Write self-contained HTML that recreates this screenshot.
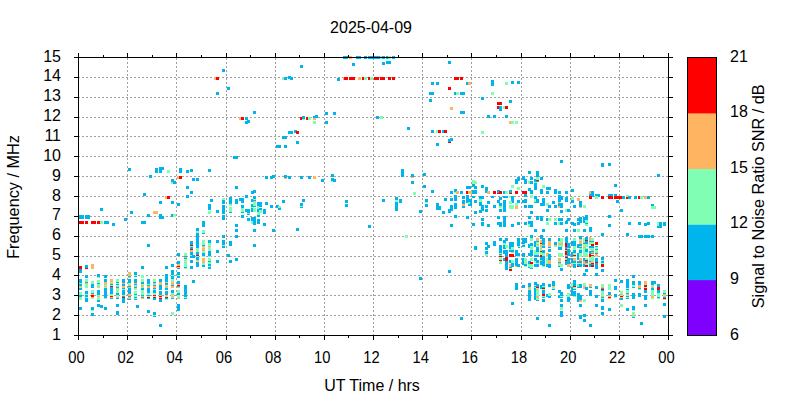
<!DOCTYPE html><html><head><meta charset="utf-8"><style>html,body{margin:0;padding:0;background:#fff;width:800px;height:400px;overflow:hidden}svg{display:block}text{font-family:"Liberation Sans",sans-serif;fill:#000}</style></head><body><svg width="800" height="400" viewBox="0 0 800 400"><rect width="800" height="400" fill="#fff"/><path d="M78 315.5H668M78 295.5H668M78 275.5H668M78 256.5H668M78 236.5H668M78 216.5H668M78 196.5H668M78 176.5H668M78 156.5H668M78 136.5H668M78 117.5H668M78 97.5H668M78 77.5H668M127.5 58V336M176.5 58V336M226.5 58V336M275.5 58V336M324.5 58V336M373.5 58V336M422.5 58V336M471.5 58V336M521.5 58V336M570.5 58V336M619.5 58V336" stroke="#a0a0a0" stroke-width="1" stroke-dasharray="2 2" fill="none"/><path fill="#00b4ec" d="M222 69h3v3h-3z"/><path fill="#ffb462" d="M214 77h2v3h-2z"/><path fill="#ff0000" d="M216 77h3v3h-3z"/><path fill="#00b4ec" d="M227 87h3v3h-3zM216 92h3v3h-3zM300 65h3v3h-3z"/><path fill="#80ffb4" d="M282 77h3v3h-3z"/><path fill="#00b4ec" d="M284 77h3v3h-3zM288 76h3v3h-3zM290 77h3v3h-3zM343 56h5v3h-5z"/><path fill="#ffb462" d="M349 56h3v3h-3z"/><path fill="#00b4ec" d="M356 56h5v3h-5zM364 56h3v3h-3zM368 56h10v3h-10zM352 63h3v3h-3zM337 78h3v3h-3z"/><path fill="#ffb462" d="M343 77h1v3h-1z"/><path fill="#ff0000" d="M344 77h4v3h-4zM349 77h6v3h-6z"/><path fill="#ffb462" d="M358 77h3v3h-3z"/><path fill="#ff0000" d="M362 77h2v3h-2z"/><path fill="#80ffb4" d="M364 77h3v3h-3z"/><path fill="#ff0000" d="M368 77h2v3h-2z"/><path fill="#80ffb4" d="M370 77h3v3h-3z"/><path fill="#ff0000" d="M374 77h4v3h-4z"/><path fill="#00b4ec" d="M378 56h3v3h-3z"/><path fill="#80ffb4" d="M380 56h2v3h-2z"/><path fill="#00b4ec" d="M382 56h3v3h-3zM386 56h3v3h-3z"/><path fill="#80ffb4" d="M388 56h3v3h-3z"/><path fill="#00b4ec" d="M392 56h3v3h-3zM382 62h3v3h-3zM386 61h5v3h-5zM448 61h3v3h-3z"/><path fill="#ff0000" d="M378 77h1v3h-1zM380 77h5v3h-5zM388 77h3v3h-3zM392 77h3v3h-3zM454 77h5v3h-5zM460 77h3v3h-3z"/><path fill="#00b4ec" d="M431 82h3v3h-3zM436 82h3v3h-3zM466 82h2v3h-2z"/><path fill="#ffb462" d="M468 82h3v3h-3z"/><path fill="#ff0000" d="M448 87h3v3h-3z"/><path fill="#00b4ec" d="M429 92h5v3h-5zM454 92h2v3h-2z"/><path fill="#80ffb4" d="M456 92h3v3h-3z"/><path fill="#00b4ec" d="M460 92h5v3h-5zM429 99h3v3h-3zM491 80h3v6h-3z"/><path fill="#80ffb4" d="M505 82h3v3h-3z"/><path fill="#00b4ec" d="M511 81h3v3h-3zM517 81h3v3h-3z"/><path fill="#80ffb4" d="M491 92h3v3h-3z"/><path fill="#00b4ec" d="M481 97h3v3h-3z"/><path fill="#ff0000" d="M497 102h5v3h-5z"/><path fill="#00b4ec" d="M509 100h3v3h-3zM253 111h3v3h-3z"/><path fill="#ffb462" d="M239 117h2v3h-2z"/><path fill="#ff0000" d="M241 117h3v3h-3z"/><path fill="#00b4ec" d="M245 117h3v3h-3zM245 121h3v3h-3zM247 120h3v3h-3zM325 112h3v3h-3zM333 112h3v3h-3z"/><path fill="#ff0000" d="M300 117h2v3h-2z"/><path fill="#80ffb4" d="M302 118h3v2h-3z"/><path fill="#00b4ec" d="M302 116h3v3h-3z"/><path fill="#ff0000" d="M306 117h2v3h-2z"/><path fill="#80ffb4" d="M308 117h3v3h-3z"/><path fill="#ffb462" d="M313 118h3v2h-3z"/><path fill="#00b4ec" d="M313 116h3v2h-3zM315 115h3v3h-3z"/><path fill="#80ffb4" d="M313 121h3v3h-3z"/><path fill="#00b4ec" d="M325 121h3v3h-3zM288 131h5v3h-5zM294 130h3v3h-3z"/><path fill="#ff0000" d="M296 131h3v3h-3z"/><path fill="#00b4ec" d="M282 136h5v3h-5zM296 141h3v3h-3zM276 145h5v3h-5zM284 145h3v3h-3z"/><path fill="#ffb462" d="M450 107h3v3h-3z"/><path fill="#00b4ec" d="M460 111h5v3h-5zM376 116h3v3h-3z"/><path fill="#80ffb4" d="M380 116h3v3h-3z"/><path fill="#00b4ec" d="M407 127h3v3h-3zM431 130h3v3h-3z"/><path fill="#80ffb4" d="M436 130h2v3h-2z"/><path fill="#ff0000" d="M438 130h3v3h-3z"/><path fill="#00b4ec" d="M442 130h2v3h-2z"/><path fill="#ff0000" d="M444 130h3v3h-3zM448 141h3v2h-3z"/><path fill="#00b4ec" d="M448 139h3v3h-3zM450 138h3v3h-3zM436 143h3v3h-3z"/><path fill="#ff0000" d="M497 106h2v3h-2z"/><path fill="#00b4ec" d="M499 106h3v5h-3z"/><path fill="#80ffb4" d="M503 106h2v3h-2z"/><path fill="#ff0000" d="M505 106h3v3h-3z"/><path fill="#00b4ec" d="M487 115h3v3h-3zM493 115h3v3h-3zM505 115h3v3h-3z"/><path fill="#ffb462" d="M509 121h2v3h-2z"/><path fill="#80ffb4" d="M511 121h3v3h-3zM515 121h3v3h-3zM481 131h3v3h-3z"/><path fill="#00b4ec" d="M128 168h3v3h-3zM155 168h3v5h-3zM159 167h3v6h-3zM161 167h3v3h-3z"/><path fill="#80ffb4" d="M167 170h3v3h-3z"/><path fill="#00b4ec" d="M149 175h3v3h-3z"/><path fill="#80ffb4" d="M171 182h4v2h-4z"/><path fill="#00b4ec" d="M171 179h3v3h-3zM173 181h3v3h-3zM143 193h3v3h-3z"/><path fill="#ffb462" d="M165 196h2v3h-2z"/><path fill="#ff0000" d="M167 196h3v3h-3z"/><path fill="#00b4ec" d="M159 201h3v3h-3zM171 201h3v3h-3zM233 156h5v3h-5zM179 168h3v5h-3zM186 170h3v3h-3zM190 169h3v3h-3zM208 169h3v3h-3z"/><path fill="#ffb462" d="M177 176h2v3h-2z"/><path fill="#ff0000" d="M179 176h3v3h-3z"/><path fill="#00b4ec" d="M192 178h3v3h-3zM196 178h3v3h-3zM265 176h3v3h-3zM270 176h3v3h-3zM272 175h3v3h-3zM186 186h3v3h-3zM235 186h3v3h-3zM190 191h3v3h-3zM251 191h3v3h-3zM253 190h3v3h-3zM186 195h3v3h-3zM245 195h3v3h-3zM210 199h3v3h-3z"/><path fill="#ffb462" d="M284 177h3v2h-3z"/><path fill="#00b4ec" d="M284 175h3v3h-3zM288 176h3v3h-3zM300 176h3v3h-3zM308 176h3v3h-3z"/><path fill="#ffb462" d="M313 176h3v3h-3z"/><path fill="#00b4ec" d="M321 179h3v3h-3zM331 174h3v3h-3z"/><path fill="#80ffb4" d="M331 180h3v2h-3z"/><path fill="#00b4ec" d="M331 178h3v3h-3zM333 179h3v3h-3zM401 169h3v8h-3z"/><path fill="#ffb462" d="M411 176h3v2h-3z"/><path fill="#00b4ec" d="M411 174h3v3h-3zM423 173h3v3h-3zM411 181h3v3h-3zM423 185h3v3h-3z"/><path fill="#80ffb4" d="M413 192h3v3h-3z"/><path fill="#00b4ec" d="M431 190h3v3h-3zM450 191h3v3h-3z"/><path fill="#80ffb4" d="M454 191h3v2h-3z"/><path fill="#00b4ec" d="M454 189h3v3h-3z"/><path fill="#ffb462" d="M456 191h3v3h-3z"/><path fill="#00b4ec" d="M460 191h3v3h-3zM466 186h5v3h-5z"/><path fill="#ff0000" d="M466 191h2v3h-2z"/><path fill="#ffb462" d="M468 191h3v3h-3z"/><path fill="#80ffb4" d="M472 180h3v4h-3zM474 181h3v3h-3z"/><path fill="#00b4ec" d="M472 184h3v3h-3zM474 186h3v3h-3zM470 186h1v3h-1zM481 185h3v3h-3z"/><path fill="#80ffb4" d="M485 192h3v1h-3z"/><path fill="#00b4ec" d="M485 187h3v6h-3z"/><path fill="#ffb462" d="M487 191h3v3h-3z"/><path fill="#00b4ec" d="M472 190h5v4h-5z"/><path fill="#ffb462" d="M470 191h2v3h-2z"/><path fill="#ff0000" d="M493 191h3v3h-3z"/><path fill="#00b4ec" d="M497 190h3v3h-3z"/><path fill="#ff0000" d="M499 191h3v3h-3zM497 193h2v1h-2z"/><path fill="#00b4ec" d="M503 191h2v3h-2z"/><path fill="#80ffb4" d="M505 191h3v3h-3z"/><path fill="#ff0000" d="M509 193h3v1h-3z"/><path fill="#00b4ec" d="M509 190h3v3h-3z"/><path fill="#ff0000" d="M515 191h3v3h-3z"/><path fill="#80ffb4" d="M511 185h3v3h-3z"/><path fill="#00b4ec" d="M515 179h3v5h-3zM517 177h3v4h-3z"/><path fill="#80ffb4" d="M517 187h3v3h-3z"/><path fill="#00b4ec" d="M560 160h3v3h-3zM528 171h3v3h-3zM536 171h3v6h-3z"/><path fill="#80ffb4" d="M536 177h3v3h-3z"/><path fill="#00b4ec" d="M530 177h3v3h-3zM540 177h3v3h-3zM522 176h3v4h-3zM524 179h3v5h-3zM534 179h2v3h-2zM536 180h3v2h-3z"/><path fill="#ff0000" d="M536 180h3v1h-3z"/><path fill="#80ffb4" d="M528 181h2v3h-2z"/><path fill="#00b4ec" d="M530 181h3v3h-3z"/><path fill="#80ffb4" d="M534 182h3v1h-3z"/><path fill="#00b4ec" d="M534 183h3v7h-3z"/><path fill="#80ffb4" d="M542 185h3v3h-3z"/><path fill="#00b4ec" d="M546 187h5v3h-5zM528 188h3v3h-3zM530 190h3v4h-3z"/><path fill="#ff0000" d="M522 191h5v3h-5z"/><path fill="#00b4ec" d="M524 194h3v3h-3zM540 189h3v5h-3zM546 191h3v3h-3zM554 189h3v5h-3zM558 191h3v3h-3zM565 191h3v3h-3z"/><path fill="#80ffb4" d="M530 195h3v3h-3z"/><path fill="#00b4ec" d="M534 196h3v3h-3zM558 195h3v3h-3zM560 196h3v4h-3zM565 197h3v3h-3zM601 163h3v4h-3zM608 163h3v3h-3zM657 174h3v3h-3zM614 184h3v3h-3zM571 189h3v3h-3z"/><path fill="#ffb462" d="M589 191h2v3h-2z"/><path fill="#00b4ec" d="M591 191h3v4h-3zM589 194h5v3h-5zM595 194h5v3h-5zM608 194h5v3h-5zM614 194h3v3h-3z"/><path fill="#ff0000" d="M589 196h3v3h-3z"/><path fill="#80ffb4" d="M595 196h3v3h-3z"/><path fill="#ff0000" d="M601 196h3v3h-3zM608 196h5v3h-5zM614 196h8v3h-8z"/><path fill="#00b4ec" d="M622 196h3v3h-3z"/><path fill="#ff0000" d="M626 196h2v3h-2z"/><path fill="#80ffb4" d="M626 195h3v2h-3z"/><path fill="#00b4ec" d="M628 196h3v3h-3zM634 196h3v3h-3z"/><path fill="#ff0000" d="M638 196h2v3h-2z"/><path fill="#80ffb4" d="M640 196h3v3h-3z"/><path fill="#ffb462" d="M644 196h3v3h-3z"/><path fill="#00b4ec" d="M647 196h3v3h-3z"/><path fill="#80ffb4" d="M571 197h3v3h-3z"/><path fill="#ffb462" d="M577 198h3v3h-3z"/><path fill="#00b4ec" d="M571 200h3v3h-3zM616 200h3v3h-3zM177 203h1v3h-1zM100 208h3v3h-3zM130 211h3v3h-3z"/><path fill="#ffb462" d="M153 211h5v3h-5z"/><path fill="#00b4ec" d="M79 215h5v4h-5zM85 215h5v4h-5zM147 214h3v3h-3zM159 214h3v3h-3zM159 216h5v3h-5zM171 214h2v3h-2z"/><path fill="#80ffb4" d="M173 214h3v3h-3z"/><path fill="#00b4ec" d="M124 218h3v3h-3z"/><path fill="#ff0000" d="M79 221h5v3h-5zM85 221h3v3h-3zM91 221h5v3h-5zM97 221h3v3h-3z"/><path fill="#80ffb4" d="M100 221h3v3h-3z"/><path fill="#00b4ec" d="M104 221h5v3h-5zM141 221h5v3h-5zM112 223h3v3h-3zM147 244h3v3h-3zM177 203h3v3h-3zM208 204h3v6h-3z"/><path fill="#80ffb4" d="M208 211h3v3h-3z"/><path fill="#00b4ec" d="M216 210h3v3h-3z"/><path fill="#80ffb4" d="M222 198h3v2h-3z"/><path fill="#00b4ec" d="M222 200h3v4h-3zM222 205h3v9h-3zM222 215h3v5h-3zM229 197h3v7h-3z"/><path fill="#80ffb4" d="M229 204h3v2h-3zM229 207h3v5h-3z"/><path fill="#00b4ec" d="M229 212h3v1h-3zM235 199h3v5h-3zM239 198h5v3h-5zM241 200h3v3h-3zM241 205h3v3h-3z"/><path fill="#80ffb4" d="M241 208h3v4h-3z"/><path fill="#00b4ec" d="M241 212h3v1h-3zM241 215h3v3h-3zM245 196h3v2h-3zM245 209h5v3h-5zM247 211h3v2h-3z"/><path fill="#80ffb4" d="M247 213h3v1h-3z"/><path fill="#00b4ec" d="M247 214h3v1h-3zM251 199h3v3h-3zM251 204h3v3h-3z"/><path fill="#80ffb4" d="M251 207h3v1h-3z"/><path fill="#00b4ec" d="M251 208h3v4h-3zM253 196h3v3h-3z"/><path fill="#80ffb4" d="M253 199h3v1h-3z"/><path fill="#00b4ec" d="M253 200h3v1h-3z"/><path fill="#ffb462" d="M253 201h3v1h-3z"/><path fill="#80ffb4" d="M253 202h3v4h-3z"/><path fill="#00b4ec" d="M253 206h3v1h-3z"/><path fill="#80ffb4" d="M253 208h3v4h-3z"/><path fill="#00b4ec" d="M251 217h5v4h-5zM257 202h5v5h-5z"/><path fill="#80ffb4" d="M257 206h2v3h-2z"/><path fill="#00b4ec" d="M259 208h3v2h-3zM257 209h2v3h-2z"/><path fill="#80ffb4" d="M259 210h3v3h-3zM257 212h3v3h-3z"/><path fill="#00b4ec" d="M257 215h3v2h-3zM257 219h3v3h-3zM263 209h3v5h-3zM265 202h3v3h-3zM270 205h3v3h-3zM247 218h3v3h-3zM202 221h3v6h-3zM196 228h3v3h-3z"/><path fill="#80ffb4" d="M196 231h3v2h-3z"/><path fill="#00b4ec" d="M196 233h3v12h-3z"/><path fill="#80ffb4" d="M202 230h3v3h-3z"/><path fill="#00b4ec" d="M202 233h3v1h-3zM222 235h3v3h-3zM190 241h3v4h-3z"/><path fill="#80ffb4" d="M202 240h3v5h-3z"/><path fill="#00b4ec" d="M208 240h3v3h-3z"/><path fill="#80ffb4" d="M208 243h3v2h-3z"/><path fill="#00b4ec" d="M216 240h3v3h-3zM222 240h3v5h-3z"/><path fill="#80ffb4" d="M251 221h2v3h-2z"/><path fill="#00b4ec" d="M253 220h3v5h-3zM257 220h3v4h-3zM263 223h3v3h-3zM235 224h3v3h-3zM235 229h3v3h-3zM253 229h3v3h-3zM272 229h3v3h-3zM235 235h3v3h-3zM229 241h3v4h-3zM282 200h3v3h-3zM302 199h3v3h-3zM300 203h3v5h-3z"/><path fill="#80ffb4" d="M300 206h3v1h-3z"/><path fill="#00b4ec" d="M276 205h3v3h-3zM278 207h3v3h-3z"/><path fill="#80ffb4" d="M278 206h3v2h-3z"/><path fill="#00b4ec" d="M345 200h3v3h-3zM345 204h3v3h-3zM296 228h3v3h-3zM368 225h3v3h-3zM382 199h3v3h-3zM395 197h3v3h-3z"/><path fill="#80ffb4" d="M395 200h3v2h-3z"/><path fill="#00b4ec" d="M395 202h3v9h-3zM399 199h3v4h-3zM419 210h3v3h-3zM425 199h3v3h-3z"/><path fill="#80ffb4" d="M425 202h3v1h-3z"/><path fill="#00b4ec" d="M425 204h3v3h-3zM436 203h3v7h-3zM438 206h3v4h-3zM444 198h3v3h-3zM442 211h3v3h-3zM450 198h3v3h-3zM450 205h3v6h-3zM448 209h3v4h-3zM454 195h3v6h-3zM454 203h3v6h-3zM454 215h3v3h-3zM462 196h3v3h-3zM462 200h3v4h-3z"/><path fill="#ffb462" d="M462 204h3v2h-3z"/><path fill="#00b4ec" d="M462 206h3v2h-3zM466 195h3v8h-3zM468 199h3v4h-3z"/><path fill="#80ffb4" d="M468 202h3v2h-3z"/><path fill="#00b4ec" d="M468 204h3v2h-3zM466 216h3v3h-3zM450 224h3v3h-3z"/><path fill="#80ffb4" d="M405 235h3v3h-3z"/><path fill="#00b4ec" d="M472 196h3v2h-3zM479 196h5v3h-5zM491 196h3v2h-3zM503 196h5v2h-5z"/><path fill="#80ffb4" d="M509 196h2v2h-2z"/><path fill="#00b4ec" d="M511 196h3v7h-3zM470 199h2v7h-2zM474 200h3v3h-3z"/><path fill="#80ffb4" d="M479 199h3v3h-3z"/><path fill="#00b4ec" d="M479 202h3v4h-3zM481 205h3v6h-3zM479 210h3v3h-3zM487 201h3v3h-3zM485 205h3v3h-3zM485 209h3v3h-3zM493 205h3v3h-3zM474 211h3v3h-3zM499 197h3v3h-3zM497 200h3v3h-3zM499 203h3v3h-3z"/><path fill="#80ffb4" d="M499 206h3v2h-3z"/><path fill="#00b4ec" d="M499 209h3v3h-3zM503 200h3v12h-3z"/><path fill="#80ffb4" d="M509 201h3v3h-3zM509 205h5v4h-5zM515 203h3v3h-3z"/><path fill="#ffb462" d="M515 206h3v3h-3z"/><path fill="#00b4ec" d="M517 200h3v3h-3zM497 216h3v3h-3zM503 216h3v5h-3zM481 218h3v3h-3zM522 200h5v3h-5zM524 199h3v1h-3zM534 199h5v4h-5z"/><path fill="#80ffb4" d="M534 199h2v3h-2z"/><path fill="#00b4ec" d="M540 203h5v3h-5zM542 198h3v5h-3z"/><path fill="#80ffb4" d="M546 203h3v3h-3z"/><path fill="#00b4ec" d="M548 205h3v3h-3zM552 201h3v3h-3zM554 205h3v3h-3zM558 196h5v4h-5zM558 200h3v2h-3z"/><path fill="#ffb462" d="M558 202h2v1h-2z"/><path fill="#00b4ec" d="M558 203h5v5h-5z"/><path fill="#ffb462" d="M558 206h2v2h-2z"/><path fill="#00b4ec" d="M565 197h3v5h-3zM524 205h3v3h-3zM528 205h5v3h-5zM530 211h3v3h-3zM546 209h3v3h-3zM560 210h3v3h-3z"/><path fill="#80ffb4" d="M565 209h2v3h-2z"/><path fill="#00b4ec" d="M567 209h2v3h-2zM528 216h3v3h-3zM536 216h3v4h-3zM540 216h3v5h-3zM546 218h2v3h-2z"/><path fill="#80ffb4" d="M548 218h3v3h-3zM554 218h3v3h-3z"/><path fill="#00b4ec" d="M558 218h5v3h-5zM503 218h3v9h-3zM472 223h3v3h-3zM481 222h3v4h-3zM487 224h3v3h-3zM497 222h5v3h-5zM499 224h3v3h-3zM511 224h3v3h-3zM517 222h3v3h-3zM499 238h3v3h-3zM505 238h3v3h-3zM503 240h3v3h-3zM517 238h3v5h-3zM524 222h3v3h-3zM528 221h5v4h-5z"/><path fill="#80ffb4" d="M528 224h2v3h-2z"/><path fill="#00b4ec" d="M530 225h3v2h-3z"/><path fill="#80ffb4" d="M546 222h3v3h-3z"/><path fill="#00b4ec" d="M554 222h3v3h-3z"/><path fill="#80ffb4" d="M558 222h2v3h-2z"/><path fill="#00b4ec" d="M560 222h3v3h-3zM565 221h3v3h-3zM534 229h3v3h-3zM542 229h3v3h-3zM565 229h3v3h-3zM530 235h3v3h-3z"/><path fill="#80ffb4" d="M530 238h3v3h-3z"/><path fill="#00b4ec" d="M540 235h3v4h-3zM542 238h3v5h-3z"/><path fill="#ffb462" d="M540 240h2v3h-2zM536 238h3v3h-3z"/><path fill="#00b4ec" d="M534 241h5v2h-5zM518 238h2v5h-2zM522 238h5v5h-5zM548 238h3v3h-3z"/><path fill="#ffb462" d="M548 241h3v2h-3z"/><path fill="#00b4ec" d="M558 238h2v3h-2z"/><path fill="#80ffb4" d="M560 238h3v5h-3zM558 241h2v2h-2z"/><path fill="#00b4ec" d="M565 237h3v6h-3z"/><path fill="#80ffb4" d="M565 240h3v1h-3z"/><path fill="#ffb462" d="M579 206h3v2h-3z"/><path fill="#00b4ec" d="M579 201h3v6h-3zM573 205h3v3h-3z"/><path fill="#80ffb4" d="M583 205h3v3h-3z"/><path fill="#00b4ec" d="M567 209h3v3h-3zM620 209h3v3h-3zM651 204h3v3h-3z"/><path fill="#80ffb4" d="M651 206h5v3h-5z"/><path fill="#00b4ec" d="M608 215h3v3h-3zM567 218h3v3h-3zM566 220h2v3h-2zM577 218h3v3h-3zM579 217h3v6h-3zM577 222h3v3h-3zM583 217h2v6h-2zM585 215h3v5h-3z"/><path fill="#80ffb4" d="M585 220h3v3h-3z"/><path fill="#00b4ec" d="M585 223h3v1h-3z"/><path fill="#80ffb4" d="M585 224h3v2h-3z"/><path fill="#00b4ec" d="M571 222h3v3h-3zM573 223h3v3h-3zM608 224h3v3h-3zM628 222h3v3h-3zM638 222h3v3h-3zM644 223h3v3h-3zM647 222h3v3h-3zM657 222h5v6h-5z"/><path fill="#80ffb4" d="M657 222h2v4h-2z"/><path fill="#00b4ec" d="M663 222h3v4h-3zM573 229h3v3h-3z"/><path fill="#80ffb4" d="M577 229h3v3h-3z"/><path fill="#00b4ec" d="M583 229h3v3h-3zM589 227h3v5h-3zM601 233h3v3h-3zM626 233h3v3h-3zM638 235h5v3h-5zM644 235h6v3h-6zM651 235h3v3h-3z"/><path fill="#ff0000" d="M79 266h3v3h-3z"/><path fill="#00b4ec" d="M79 269h3v4h-3zM85 265h3v3h-3z"/><path fill="#ff0000" d="M85 268h3v1h-3z"/><path fill="#ffb462" d="M91 264h3v5h-3z"/><path fill="#00b4ec" d="M141 266h3v3h-3zM165 266h3v3h-3zM171 264h3v3h-3zM79 279h3v4h-3z"/><path fill="#80ffb4" d="M79 283h3v1h-3z"/><path fill="#00b4ec" d="M79 284h3v2h-3z"/><path fill="#ffb462" d="M79 286h3v1h-3z"/><path fill="#80ffb4" d="M79 287h3v1h-3z"/><path fill="#00b4ec" d="M79 288h3v2h-3z"/><path fill="#80ffb4" d="M79 292h3v3h-3z"/><path fill="#00b4ec" d="M85 275h3v3h-3z"/><path fill="#80ffb4" d="M85 279h3v3h-3z"/><path fill="#00b4ec" d="M85 282h3v1h-3z"/><path fill="#ffb462" d="M85 283h3v1h-3z"/><path fill="#80ffb4" d="M85 284h3v4h-3z"/><path fill="#00b4ec" d="M85 291h3v3h-3z"/><path fill="#80ffb4" d="M85 294h3v1h-3zM91 281h3v3h-3z"/><path fill="#00b4ec" d="M91 284h3v2h-3z"/><path fill="#80ffb4" d="M91 286h3v1h-3z"/><path fill="#00b4ec" d="M91 286h3v2h-3z"/><path fill="#80ffb4" d="M91 290h3v3h-3z"/><path fill="#00b4ec" d="M91 293h3v1h-3z"/><path fill="#ffb462" d="M91 294h3v1h-3z"/><path fill="#00b4ec" d="M97 274h3v3h-3z"/><path fill="#80ffb4" d="M97 277h3v1h-3zM97 280h3v3h-3z"/><path fill="#00b4ec" d="M97 283h3v1h-3z"/><path fill="#80ffb4" d="M97 284h3v2h-3z"/><path fill="#ffb462" d="M97 286h3v1h-3z"/><path fill="#80ffb4" d="M97 287h3v1h-3z"/><path fill="#00b4ec" d="M97 290h3v5h-3zM104 275h3v3h-3zM104 279h3v3h-3z"/><path fill="#ffb462" d="M104 282h3v3h-3z"/><path fill="#80ffb4" d="M104 285h3v1h-3z"/><path fill="#ffb462" d="M104 286h3v1h-3z"/><path fill="#80ffb4" d="M104 287h3v1h-3z"/><path fill="#00b4ec" d="M104 288h3v7h-3z"/><path fill="#ffb462" d="M110 279h3v3h-3z"/><path fill="#80ffb4" d="M110 282h3v1h-3z"/><path fill="#ffb462" d="M110 283h3v1h-3z"/><path fill="#00b4ec" d="M110 284h3v1h-3z"/><path fill="#80ffb4" d="M110 285h3v1h-3z"/><path fill="#ff0000" d="M110 286h3v1h-3z"/><path fill="#00b4ec" d="M110 287h3v7h-3z"/><path fill="#80ffb4" d="M110 294h3v1h-3zM116 279h3v3h-3z"/><path fill="#00b4ec" d="M116 282h3v1h-3z"/><path fill="#80ffb4" d="M116 283h3v1h-3z"/><path fill="#00b4ec" d="M116 284h3v1h-3z"/><path fill="#80ffb4" d="M116 285h3v1h-3z"/><path fill="#ffb462" d="M116 286h3v1h-3z"/><path fill="#00b4ec" d="M116 287h3v1h-3z"/><path fill="#80ffb4" d="M116 288h3v5h-3z"/><path fill="#00b4ec" d="M116 293h3v2h-3zM122 279h3v4h-3z"/><path fill="#ffb462" d="M122 283h3v1h-3z"/><path fill="#00b4ec" d="M122 284h3v2h-3z"/><path fill="#ffb462" d="M122 286h3v2h-3z"/><path fill="#00b4ec" d="M122 288h3v1h-3z"/><path fill="#80ffb4" d="M122 289h3v1h-3z"/><path fill="#00b4ec" d="M122 290h3v5h-3zM79 295h3v2h-3z"/><path fill="#80ffb4" d="M79 297h3v3h-3z"/><path fill="#00b4ec" d="M79 307h3v3h-3z"/><path fill="#80ffb4" d="M85 294h3v1h-3z"/><path fill="#00b4ec" d="M85 295h3v2h-3z"/><path fill="#80ffb4" d="M85 297h3v1h-3z"/><path fill="#00b4ec" d="M85 298h3v4h-3zM91 293h3v1h-3z"/><path fill="#ffb462" d="M91 294h3v1h-3z"/><path fill="#ff0000" d="M91 295h3v2h-3z"/><path fill="#ffb462" d="M91 297h3v1h-3z"/><path fill="#80ffb4" d="M91 298h3v1h-3z"/><path fill="#00b4ec" d="M91 307h3v3h-3z"/><path fill="#80ffb4" d="M91 310h3v1h-3z"/><path fill="#00b4ec" d="M91 313h3v3h-3zM97 293h3v2h-3z"/><path fill="#80ffb4" d="M97 295h3v1h-3z"/><path fill="#ffb462" d="M97 296h3v1h-3z"/><path fill="#80ffb4" d="M97 297h3v3h-3z"/><path fill="#00b4ec" d="M97 300h3v2h-3zM97 304h3v3h-3zM100 305h3v3h-3zM104 293h3v5h-3z"/><path fill="#80ffb4" d="M104 298h3v1h-3z"/><path fill="#00b4ec" d="M104 307h3v3h-3zM110 293h3v1h-3z"/><path fill="#80ffb4" d="M110 294h3v2h-3z"/><path fill="#ff0000" d="M110 296h3v1h-3z"/><path fill="#ffb462" d="M110 297h3v1h-3z"/><path fill="#00b4ec" d="M110 298h3v1h-3zM116 293h3v2h-3z"/><path fill="#80ffb4" d="M116 295h3v2h-3z"/><path fill="#ffb462" d="M116 297h3v1h-3z"/><path fill="#00b4ec" d="M116 298h3v1h-3zM116 304h3v3h-3zM116 311h3v4h-3zM122 293h3v2h-3z"/><path fill="#80ffb4" d="M122 295h3v1h-3z"/><path fill="#00b4ec" d="M122 296h3v1h-3z"/><path fill="#ff0000" d="M122 297h3v1h-3z"/><path fill="#00b4ec" d="M122 298h3v5h-3z"/><path fill="#ffb462" d="M128 272h3v3h-3z"/><path fill="#80ffb4" d="M128 275h3v1h-3z"/><path fill="#00b4ec" d="M128 276h3v1h-3z"/><path fill="#ffb462" d="M128 277h3v1h-3z"/><path fill="#00b4ec" d="M128 279h3v4h-3z"/><path fill="#80ffb4" d="M128 283h3v2h-3z"/><path fill="#ffb462" d="M128 285h3v1h-3z"/><path fill="#00b4ec" d="M128 286h3v1h-3z"/><path fill="#ffb462" d="M128 287h3v1h-3z"/><path fill="#00b4ec" d="M128 288h3v6h-3z"/><path fill="#ffb462" d="M128 294h3v1h-3z"/><path fill="#00b4ec" d="M134 272h3v3h-3z"/><path fill="#80ffb4" d="M134 275h3v1h-3z"/><path fill="#00b4ec" d="M134 276h3v1h-3zM134 279h3v4h-3z"/><path fill="#ffb462" d="M134 283h3v1h-3z"/><path fill="#00b4ec" d="M134 284h3v1h-3z"/><path fill="#80ffb4" d="M134 285h3v1h-3z"/><path fill="#ffb462" d="M134 286h3v1h-3z"/><path fill="#00b4ec" d="M134 287h3v1h-3z"/><path fill="#80ffb4" d="M134 288h3v2h-3zM134 291h3v3h-3z"/><path fill="#00b4ec" d="M134 294h3v1h-3z"/><path fill="#80ffb4" d="M141 275h3v3h-3zM141 279h3v3h-3z"/><path fill="#00b4ec" d="M141 282h3v2h-3z"/><path fill="#80ffb4" d="M141 284h3v1h-3z"/><path fill="#ffb462" d="M141 285h3v2h-3z"/><path fill="#80ffb4" d="M141 287h3v1h-3z"/><path fill="#00b4ec" d="M141 288h3v2h-3z"/><path fill="#80ffb4" d="M141 290h3v5h-3z"/><path fill="#00b4ec" d="M147 279h3v5h-3z"/><path fill="#80ffb4" d="M147 284h3v1h-3z"/><path fill="#00b4ec" d="M147 285h3v1h-3z"/><path fill="#ffb462" d="M147 286h3v2h-3z"/><path fill="#00b4ec" d="M147 288h3v5h-3z"/><path fill="#80ffb4" d="M147 293h3v2h-3zM153 279h3v3h-3z"/><path fill="#00b4ec" d="M153 282h3v1h-3z"/><path fill="#ffb462" d="M153 283h3v1h-3z"/><path fill="#80ffb4" d="M153 284h3v1h-3z"/><path fill="#00b4ec" d="M153 285h3v1h-3z"/><path fill="#ffb462" d="M153 286h3v2h-3z"/><path fill="#00b4ec" d="M153 288h3v1h-3z"/><path fill="#80ffb4" d="M153 289h3v1h-3z"/><path fill="#00b4ec" d="M153 290h3v3h-3z"/><path fill="#80ffb4" d="M153 293h3v1h-3z"/><path fill="#ffb462" d="M153 294h3v1h-3z"/><path fill="#00b4ec" d="M159 279h3v3h-3z"/><path fill="#ffb462" d="M159 282h3v3h-3z"/><path fill="#00b4ec" d="M159 285h3v5h-3zM159 291h3v4h-3zM165 274h3v8h-3z"/><path fill="#ffb462" d="M165 282h3v1h-3z"/><path fill="#00b4ec" d="M165 283h3v2h-3z"/><path fill="#80ffb4" d="M165 285h3v1h-3z"/><path fill="#ffb462" d="M165 286h3v2h-3z"/><path fill="#00b4ec" d="M165 288h3v2h-3zM165 291h3v3h-3z"/><path fill="#80ffb4" d="M165 294h3v1h-3z"/><path fill="#00b4ec" d="M171 270h3v5h-3z"/><path fill="#80ffb4" d="M171 275h3v1h-3z"/><path fill="#00b4ec" d="M171 276h3v3h-3z"/><path fill="#80ffb4" d="M171 279h3v3h-3z"/><path fill="#ffb462" d="M171 282h3v3h-3z"/><path fill="#00b4ec" d="M171 285h3v1h-3z"/><path fill="#ffb462" d="M171 286h3v2h-3z"/><path fill="#00b4ec" d="M171 290h3v3h-3z"/><path fill="#80ffb4" d="M171 293h3v1h-3z"/><path fill="#ffb462" d="M171 294h3v1h-3z"/><path fill="#00b4ec" d="M128 293h3v1h-3z"/><path fill="#ffb462" d="M128 294h3v2h-3z"/><path fill="#00b4ec" d="M128 296h3v1h-3z"/><path fill="#ffb462" d="M128 297h3v2h-3z"/><path fill="#00b4ec" d="M128 299h3v1h-3z"/><path fill="#80ffb4" d="M134 293h3v1h-3z"/><path fill="#00b4ec" d="M134 294h3v1h-3z"/><path fill="#80ffb4" d="M134 295h3v2h-3z"/><path fill="#00b4ec" d="M134 297h3v1h-3z"/><path fill="#80ffb4" d="M134 298h3v1h-3z"/><path fill="#00b4ec" d="M134 299h3v1h-3zM136 305h3v3h-3z"/><path fill="#80ffb4" d="M141 293h3v2h-3z"/><path fill="#00b4ec" d="M141 295h3v1h-3z"/><path fill="#ffb462" d="M141 296h3v1h-3z"/><path fill="#00b4ec" d="M141 297h3v1h-3z"/><path fill="#ffb462" d="M141 298h3v1h-3z"/><path fill="#80ffb4" d="M147 293h3v2h-3z"/><path fill="#00b4ec" d="M147 295h3v1h-3z"/><path fill="#80ffb4" d="M147 296h3v1h-3z"/><path fill="#ff0000" d="M147 297h3v1h-3z"/><path fill="#00b4ec" d="M147 298h3v1h-3zM147 310h3v3h-3z"/><path fill="#80ffb4" d="M153 293h3v2h-3z"/><path fill="#ff0000" d="M153 295h3v1h-3z"/><path fill="#80ffb4" d="M153 296h3v1h-3z"/><path fill="#ff0000" d="M153 297h3v1h-3z"/><path fill="#00b4ec" d="M153 298h3v2h-3zM153 312h3v3h-3z"/><path fill="#80ffb4" d="M153 315h3v1h-3z"/><path fill="#00b4ec" d="M153 316h3v1h-3zM159 293h3v2h-3z"/><path fill="#ffb462" d="M159 295h3v1h-3z"/><path fill="#ff0000" d="M159 296h3v1h-3z"/><path fill="#ffb462" d="M159 297h3v1h-3z"/><path fill="#ff0000" d="M159 298h3v1h-3z"/><path fill="#00b4ec" d="M159 299h3v3h-3zM165 293h3v2h-3z"/><path fill="#ffb462" d="M165 295h3v1h-3z"/><path fill="#80ffb4" d="M165 296h3v1h-3z"/><path fill="#ff0000" d="M165 297h3v1h-3z"/><path fill="#00b4ec" d="M165 298h3v1h-3z"/><path fill="#80ffb4" d="M165 299h3v1h-3zM171 293h3v1h-3z"/><path fill="#ffb462" d="M171 294h3v1h-3z"/><path fill="#80ffb4" d="M171 295h3v1h-3z"/><path fill="#ffb462" d="M171 296h3v1h-3z"/><path fill="#80ffb4" d="M171 297h3v1h-3z"/><path fill="#00b4ec" d="M171 298h3v1h-3z"/><path fill="#80ffb4" d="M171 312h3v3h-3z"/><path fill="#00b4ec" d="M177 253h3v3h-3zM177 261h3v3h-3z"/><path fill="#ffb462" d="M177 264h3v2h-3z"/><path fill="#ff0000" d="M177 266h3v1h-3z"/><path fill="#ffb462" d="M177 267h3v1h-3z"/><path fill="#80ffb4" d="M184 253h3v3h-3z"/><path fill="#00b4ec" d="M184 256h3v1h-3z"/><path fill="#ffb462" d="M184 257h3v1h-3z"/><path fill="#00b4ec" d="M184 258h3v1h-3z"/><path fill="#80ffb4" d="M184 259h3v8h-3z"/><path fill="#00b4ec" d="M184 267h3v1h-3zM190 243h3v2h-3z"/><path fill="#ff0000" d="M190 245h3v1h-3z"/><path fill="#80ffb4" d="M190 246h3v1h-3z"/><path fill="#00b4ec" d="M190 247h3v2h-3z"/><path fill="#ff0000" d="M190 249h3v1h-3z"/><path fill="#ffb462" d="M190 250h3v2h-3z"/><path fill="#00b4ec" d="M190 252h3v3h-3z"/><path fill="#80ffb4" d="M190 255h3v1h-3z"/><path fill="#00b4ec" d="M190 256h5v2h-5zM192 255h3v1h-3zM190 260h3v3h-3zM190 266h3v2h-3zM196 243h3v5h-3z"/><path fill="#80ffb4" d="M196 248h3v4h-3z"/><path fill="#00b4ec" d="M196 252h3v3h-3z"/><path fill="#ff0000" d="M196 255h3v1h-3z"/><path fill="#80ffb4" d="M196 256h3v1h-3z"/><path fill="#00b4ec" d="M196 257h3v3h-3z"/><path fill="#ffb462" d="M196 260h3v1h-3z"/><path fill="#80ffb4" d="M196 261h3v1h-3z"/><path fill="#00b4ec" d="M196 262h3v5h-3z"/><path fill="#80ffb4" d="M202 243h3v2h-3z"/><path fill="#00b4ec" d="M202 245h3v1h-3z"/><path fill="#ffb462" d="M202 246h3v1h-3z"/><path fill="#80ffb4" d="M202 247h3v1h-3z"/><path fill="#ffb462" d="M202 248h3v3h-3z"/><path fill="#80ffb4" d="M202 251h3v2h-3z"/><path fill="#00b4ec" d="M202 253h3v3h-3z"/><path fill="#80ffb4" d="M202 256h3v1h-3z"/><path fill="#ffb462" d="M202 258h3v5h-3z"/><path fill="#80ffb4" d="M202 263h3v2h-3z"/><path fill="#00b4ec" d="M202 265h3v2h-3z"/><path fill="#80ffb4" d="M208 243h3v3h-3z"/><path fill="#ffb462" d="M208 246h3v1h-3z"/><path fill="#80ffb4" d="M208 247h3v4h-3z"/><path fill="#00b4ec" d="M208 251h3v5h-3z"/><path fill="#80ffb4" d="M208 256h3v1h-3zM208 258h3v3h-3z"/><path fill="#00b4ec" d="M208 261h3v1h-3z"/><path fill="#80ffb4" d="M208 262h3v2h-3z"/><path fill="#00b4ec" d="M208 264h3v2h-3z"/><path fill="#80ffb4" d="M208 266h3v1h-3z"/><path fill="#00b4ec" d="M208 267h3v1h-3zM216 250h3v3h-3zM216 260h3v3h-3zM222 243h3v2h-3z"/><path fill="#80ffb4" d="M222 245h3v1h-3z"/><path fill="#00b4ec" d="M222 246h3v2h-3zM177 268h3v1h-3zM177 272h3v3h-3z"/><path fill="#80ffb4" d="M177 275h3v1h-3z"/><path fill="#00b4ec" d="M177 276h3v2h-3zM177 281h3v3h-3z"/><path fill="#ffb462" d="M177 284h3v1h-3z"/><path fill="#ff0000" d="M177 285h3v1h-3z"/><path fill="#00b4ec" d="M177 286h3v1h-3z"/><path fill="#ffb462" d="M177 287h3v1h-3z"/><path fill="#80ffb4" d="M177 290h3v1h-3zM184 266h3v1h-3z"/><path fill="#00b4ec" d="M184 267h3v1h-3z"/><path fill="#80ffb4" d="M184 268h3v1h-3z"/><path fill="#00b4ec" d="M184 285h3v6h-3zM190 266h3v3h-3zM192 280h3v3h-3z"/><path fill="#80ffb4" d="M208 266h3v1h-3z"/><path fill="#00b4ec" d="M208 267h3v2h-3z"/><path fill="#80ffb4" d="M177 290h3v3h-3z"/><path fill="#00b4ec" d="M177 293h3v2h-3z"/><path fill="#80ffb4" d="M177 295h3v3h-3z"/><path fill="#ffb462" d="M177 298h3v1h-3z"/><path fill="#00b4ec" d="M177 304h3v7h-3zM184 289h3v8h-3z"/><path fill="#80ffb4" d="M184 297h3v1h-3z"/><path fill="#00b4ec" d="M184 298h3v1h-3zM229 243h3v3h-3zM253 244h3v3h-3zM227 254h3v3h-3zM235 258h3v3h-3zM229 260h3v3h-3zM419 277h3v3h-3zM448 270h3v3h-3zM460 317h3v3h-3zM474 246h3v4h-3zM485 242h3v3h-3zM487 245h3v3h-3zM485 247h3v3h-3zM485 251h3v3h-3z"/><path fill="#80ffb4" d="M485 254h3v2h-3z"/><path fill="#00b4ec" d="M493 241h3v5h-3zM499 245h3v8h-3z"/><path fill="#80ffb4" d="M499 253h3v1h-3z"/><path fill="#00b4ec" d="M499 254h3v2h-3z"/><path fill="#ffb462" d="M499 255h3v1h-3z"/><path fill="#ff0000" d="M499 256h3v1h-3z"/><path fill="#80ffb4" d="M499 257h3v3h-3z"/><path fill="#ff0000" d="M499 260h3v1h-3z"/><path fill="#80ffb4" d="M499 261h3v3h-3zM503 243h3v2h-3z"/><path fill="#00b4ec" d="M503 245h3v4h-3z"/><path fill="#80ffb4" d="M505 245h3v3h-3z"/><path fill="#00b4ec" d="M503 250h5v4h-5zM505 254h3v3h-3z"/><path fill="#ff0000" d="M505 257h3v4h-3z"/><path fill="#00b4ec" d="M503 258h2v3h-2zM505 261h3v4h-3zM509 242h5v7h-5z"/><path fill="#80ffb4" d="M511 247h3v2h-3zM509 249h5v1h-5z"/><path fill="#00b4ec" d="M509 250h5v2h-5z"/><path fill="#ffb462" d="M511 252h3v1h-3z"/><path fill="#ff0000" d="M509 254h5v3h-5z"/><path fill="#00b4ec" d="M515 250h3v6h-3zM517 253h3v3h-3z"/><path fill="#80ffb4" d="M517 256h3v1h-3z"/><path fill="#00b4ec" d="M517 240h3v7h-3z"/><path fill="#80ffb4" d="M517 246h3v1h-3z"/><path fill="#00b4ec" d="M515 258h3v7h-3zM509 260h2v3h-2z"/><path fill="#80ffb4" d="M511 260h3v3h-3z"/><path fill="#00b4ec" d="M511 263h3v2h-3z"/><path fill="#ffb462" d="M509 264h2v1h-2z"/><path fill="#00b4ec" d="M518 240h2v6h-2z"/><path fill="#80ffb4" d="M518 246h2v1h-2z"/><path fill="#00b4ec" d="M518 247h2v1h-2zM518 253h2v3h-2z"/><path fill="#80ffb4" d="M518 256h2v1h-2z"/><path fill="#00b4ec" d="M522 240h5v2h-5zM522 242h3v2h-3z"/><path fill="#80ffb4" d="M522 244h3v1h-3z"/><path fill="#00b4ec" d="M522 245h3v2h-3zM522 253h3v4h-3zM522 258h2v7h-2z"/><path fill="#80ffb4" d="M524 258h3v7h-3zM530 240h3v1h-3z"/><path fill="#00b4ec" d="M530 243h3v3h-3zM528 244h3v4h-3z"/><path fill="#80ffb4" d="M530 246h3v4h-3z"/><path fill="#00b4ec" d="M530 250h3v6h-3zM528 253h3v3h-3z"/><path fill="#80ffb4" d="M530 258h3v3h-3z"/><path fill="#00b4ec" d="M528 261h3v4h-3z"/><path fill="#ff0000" d="M530 262h3v2h-3z"/><path fill="#80ffb4" d="M530 264h3v1h-3z"/><path fill="#ffb462" d="M536 240h3v1h-3z"/><path fill="#00b4ec" d="M534 241h2v6h-2z"/><path fill="#80ffb4" d="M536 242h3v2h-3z"/><path fill="#ffb462" d="M536 244h3v1h-3z"/><path fill="#80ffb4" d="M536 245h3v2h-3z"/><path fill="#00b4ec" d="M536 247h3v5h-3z"/><path fill="#80ffb4" d="M534 250h2v6h-2zM536 252h3v3h-3z"/><path fill="#00b4ec" d="M534 255h5v2h-5zM534 258h3v3h-3zM536 260h3v5h-3z"/><path fill="#80ffb4" d="M534 261h2v2h-2z"/><path fill="#ffb462" d="M540 240h2v3h-2z"/><path fill="#ff0000" d="M540 243h2v1h-2z"/><path fill="#80ffb4" d="M540 244h2v1h-2z"/><path fill="#ffb462" d="M540 245h2v2h-2z"/><path fill="#80ffb4" d="M540 247h2v1h-2z"/><path fill="#ffb462" d="M540 248h2v1h-2z"/><path fill="#80ffb4" d="M540 249h2v2h-2z"/><path fill="#ff0000" d="M540 251h2v1h-2z"/><path fill="#80ffb4" d="M540 252h2v1h-2z"/><path fill="#00b4ec" d="M542 240h3v6h-3z"/><path fill="#ffb462" d="M542 245h3v1h-3z"/><path fill="#00b4ec" d="M542 246h3v2h-3zM542 250h3v3h-3z"/><path fill="#80ffb4" d="M540 253h5v2h-5zM542 255h3v1h-3z"/><path fill="#ff0000" d="M540 255h2v2h-2z"/><path fill="#00b4ec" d="M540 257h2v8h-2z"/><path fill="#ffb462" d="M540 260h2v1h-2z"/><path fill="#00b4ec" d="M542 256h3v9h-3zM548 240h3v1h-3z"/><path fill="#ffb462" d="M548 241h3v6h-3z"/><path fill="#00b4ec" d="M548 247h3v1h-3zM548 249h3v3h-3z"/><path fill="#ffb462" d="M546 253h3v3h-3z"/><path fill="#80ffb4" d="M546 256h2v1h-2z"/><path fill="#00b4ec" d="M548 254h3v6h-3z"/><path fill="#ffb462" d="M548 260h3v4h-3z"/><path fill="#00b4ec" d="M548 264h3v1h-3z"/><path fill="#80ffb4" d="M546 258h2v7h-2z"/><path fill="#00b4ec" d="M554 242h3v3h-3z"/><path fill="#ffb462" d="M554 245h3v1h-3z"/><path fill="#80ffb4" d="M554 246h3v1h-3z"/><path fill="#00b4ec" d="M558 240h2v1h-2z"/><path fill="#80ffb4" d="M558 241h5v2h-5z"/><path fill="#ffb462" d="M558 243h5v2h-5z"/><path fill="#80ffb4" d="M558 245h5v2h-5z"/><path fill="#00b4ec" d="M558 247h4v3h-4z"/><path fill="#80ffb4" d="M558 253h5v4h-5z"/><path fill="#ffb462" d="M558 258h3v3h-3z"/><path fill="#80ffb4" d="M558 261h3v1h-3z"/><path fill="#00b4ec" d="M558 262h3v1h-3z"/><path fill="#ffb462" d="M558 263h3v1h-3z"/><path fill="#80ffb4" d="M558 264h5v1h-5z"/><path fill="#00b4ec" d="M565 240h3v3h-3z"/><path fill="#ff0000" d="M565 243h3v4h-3z"/><path fill="#00b4ec" d="M565 247h3v1h-3zM565 248h3v1h-3z"/><path fill="#ff0000" d="M565 249h3v1h-3z"/><path fill="#ffb462" d="M565 250h3v1h-3z"/><path fill="#ff0000" d="M565 251h3v4h-3z"/><path fill="#ffb462" d="M565 255h3v1h-3z"/><path fill="#00b4ec" d="M565 256h3v1h-3z"/><path fill="#ff0000" d="M565 257h3v1h-3z"/><path fill="#ffb462" d="M565 258h3v2h-3z"/><path fill="#ff0000" d="M565 260h3v1h-3z"/><path fill="#00b4ec" d="M565 261h3v4h-3zM567 243h3v13h-3z"/><path fill="#80ffb4" d="M567 248h3v1h-3z"/><path fill="#00b4ec" d="M567 258h3v7h-3z"/><path fill="#ffb462" d="M567 264h3v1h-3z"/><path fill="#80ffb4" d="M573 240h3v1h-3z"/><path fill="#00b4ec" d="M571 241h5v5h-5z"/><path fill="#80ffb4" d="M573 246h3v4h-3z"/><path fill="#00b4ec" d="M573 250h3v3h-3z"/><path fill="#80ffb4" d="M573 253h3v2h-3z"/><path fill="#ff0000" d="M573 255h3v1h-3z"/><path fill="#ffb462" d="M573 256h3v1h-3z"/><path fill="#00b4ec" d="M571 252h2v5h-2zM571 258h2v7h-2z"/><path fill="#ffb462" d="M573 258h3v3h-3z"/><path fill="#00b4ec" d="M573 261h3v2h-3z"/><path fill="#80ffb4" d="M573 263h3v1h-3zM579 240h3v1h-3z"/><path fill="#ffb462" d="M579 241h3v3h-3z"/><path fill="#00b4ec" d="M577 244h5v4h-5z"/><path fill="#ffb462" d="M579 246h3v1h-3z"/><path fill="#80ffb4" d="M579 248h3v2h-3z"/><path fill="#00b4ec" d="M579 250h3v3h-3z"/><path fill="#80ffb4" d="M579 253h3v4h-3z"/><path fill="#00b4ec" d="M577 253h2v7h-2z"/><path fill="#ffb462" d="M579 258h3v3h-3z"/><path fill="#00b4ec" d="M577 261h5v2h-5z"/><path fill="#ffb462" d="M577 263h5v1h-5z"/><path fill="#00b4ec" d="M577 264h5v1h-5z"/><path fill="#ff0000" d="M585 240h3v1h-3z"/><path fill="#00b4ec" d="M583 241h5v3h-5z"/><path fill="#ffb462" d="M583 242h2v1h-2z"/><path fill="#80ffb4" d="M583 244h5v3h-5z"/><path fill="#ffb462" d="M583 247h3v1h-3z"/><path fill="#80ffb4" d="M583 248h5v9h-5z"/><path fill="#00b4ec" d="M585 249h3v3h-3z"/><path fill="#ffb462" d="M585 256h3v1h-3z"/><path fill="#00b4ec" d="M583 258h2v3h-2z"/><path fill="#ffb462" d="M583 261h2v3h-2z"/><path fill="#80ffb4" d="M585 258h3v2h-3z"/><path fill="#ff0000" d="M585 260h3v1h-3z"/><path fill="#00b4ec" d="M585 261h3v2h-3z"/><path fill="#ffb462" d="M585 263h3v2h-3zM589 240h2v1h-2z"/><path fill="#00b4ec" d="M589 241h5v1h-5z"/><path fill="#80ffb4" d="M589 242h5v3h-5z"/><path fill="#ff0000" d="M591 244h3v2h-3z"/><path fill="#00b4ec" d="M589 246h5v2h-5z"/><path fill="#80ffb4" d="M589 248h5v2h-5z"/><path fill="#ffb462" d="M591 250h3v1h-3z"/><path fill="#00b4ec" d="M589 251h5v3h-5z"/><path fill="#ffb462" d="M591 252h3v1h-3z"/><path fill="#ff0000" d="M589 254h2v3h-2zM591 255h3v1h-3z"/><path fill="#80ffb4" d="M591 256h3v1h-3zM589 257h5v4h-5z"/><path fill="#00b4ec" d="M589 261h2v1h-2z"/><path fill="#ffb462" d="M591 261h3v1h-3z"/><path fill="#80ffb4" d="M589 262h5v1h-5z"/><path fill="#ff0000" d="M591 263h3v1h-3z"/><path fill="#ffb462" d="M589 263h2v2h-2z"/><path fill="#00b4ec" d="M591 264h3v1h-3z"/><path fill="#ff0000" d="M595 242h3v3h-3z"/><path fill="#00b4ec" d="M595 246h3v1h-3z"/><path fill="#80ffb4" d="M595 247h3v2h-3z"/><path fill="#00b4ec" d="M595 249h3v1h-3z"/><path fill="#80ffb4" d="M595 250h3v2h-3z"/><path fill="#ffb462" d="M595 252h3v1h-3z"/><path fill="#00b4ec" d="M595 253h3v1h-3z"/><path fill="#ffb462" d="M595 254h3v2h-3z"/><path fill="#80ffb4" d="M595 256h3v1h-3z"/><path fill="#00b4ec" d="M595 258h3v4h-3z"/><path fill="#ff0000" d="M595 262h3v1h-3z"/><path fill="#00b4ec" d="M595 263h3v2h-3zM601 257h3v3h-3z"/><path fill="#80ffb4" d="M601 260h3v1h-3z"/><path fill="#00b4ec" d="M601 261h3v2h-3z"/><path fill="#80ffb4" d="M601 263h3v1h-3z"/><path fill="#ff0000" d="M601 264h3v1h-3z"/><path fill="#00b4ec" d="M505 263h3v7h-3z"/><path fill="#ffb462" d="M509 264h2v3h-2z"/><path fill="#00b4ec" d="M511 263h3v4h-3zM509 267h3v1h-3z"/><path fill="#80ffb4" d="M509 268h3v1h-3z"/><path fill="#ff0000" d="M509 269h3v2h-3z"/><path fill="#00b4ec" d="M515 263h3v3h-3z"/><path fill="#ffb462" d="M515 266h2v1h-2z"/><path fill="#00b4ec" d="M517 264h3v3h-3zM515 283h3v5h-3zM518 264h2v3h-2z"/><path fill="#80ffb4" d="M524 263h3v1h-3z"/><path fill="#00b4ec" d="M524 264h3v2h-3z"/><path fill="#80ffb4" d="M524 266h3v1h-3z"/><path fill="#ff0000" d="M530 263h3v1h-3z"/><path fill="#80ffb4" d="M528 264h5v4h-5z"/><path fill="#00b4ec" d="M528 267h2v1h-2zM530 268h3v1h-3z"/><path fill="#80ffb4" d="M536 263h3v1h-3z"/><path fill="#00b4ec" d="M534 264h5v3h-5zM542 263h3v3h-3z"/><path fill="#80ffb4" d="M542 266h3v1h-3z"/><path fill="#ffb462" d="M548 263h3v1h-3z"/><path fill="#00b4ec" d="M546 264h5v3h-5zM548 267h3v1h-3z"/><path fill="#ffb462" d="M558 263h3v1h-3z"/><path fill="#80ffb4" d="M558 264h5v2h-5z"/><path fill="#00b4ec" d="M558 266h2v1h-2z"/><path fill="#80ffb4" d="M560 266h3v1h-3z"/><path fill="#00b4ec" d="M560 268h3v3h-3z"/><path fill="#ffb462" d="M567 264h1v3h-1z"/><path fill="#00b4ec" d="M522 285h3v3h-3zM528 283h3v4h-3z"/><path fill="#ffb462" d="M528 287h3v1h-3z"/><path fill="#00b4ec" d="M534 282h3v3h-3z"/><path fill="#80ffb4" d="M534 285h3v1h-3z"/><path fill="#00b4ec" d="M536 284h3v3h-3z"/><path fill="#ff0000" d="M536 287h3v1h-3z"/><path fill="#80ffb4" d="M534 287h2v1h-2z"/><path fill="#00b4ec" d="M540 285h2v3h-2zM542 283h3v3h-3z"/><path fill="#80ffb4" d="M542 286h3v1h-3z"/><path fill="#00b4ec" d="M542 287h3v1h-3zM548 284h3v3h-3zM552 281h3v5h-3z"/><path fill="#ffb462" d="M552 286h3v1h-3z"/><path fill="#80ffb4" d="M552 287h3v1h-3z"/><path fill="#00b4ec" d="M567 284h1v4h-1z"/><path fill="#ffb462" d="M567 264h3v3h-3z"/><path fill="#80ffb4" d="M571 263h5v1h-5z"/><path fill="#ffb462" d="M571 264h2v3h-2z"/><path fill="#00b4ec" d="M573 264h3v4h-3z"/><path fill="#80ffb4" d="M577 263h2v1h-2z"/><path fill="#ffb462" d="M579 263h3v1h-3z"/><path fill="#00b4ec" d="M577 264h5v3h-5z"/><path fill="#ff0000" d="M577 266h2v1h-2z"/><path fill="#ffb462" d="M583 263h5v1h-5z"/><path fill="#00b4ec" d="M583 264h2v3h-2z"/><path fill="#80ffb4" d="M585 264h3v1h-3z"/><path fill="#ff0000" d="M585 265h3v2h-3z"/><path fill="#00b4ec" d="M585 269h3v3h-3z"/><path fill="#ffb462" d="M589 263h2v1h-2z"/><path fill="#ff0000" d="M591 263h3v1h-3z"/><path fill="#00b4ec" d="M589 264h5v3h-5z"/><path fill="#ff0000" d="M591 265h3v2h-3z"/><path fill="#00b4ec" d="M595 263h3v6h-3z"/><path fill="#80ffb4" d="M601 263h3v1h-3z"/><path fill="#ff0000" d="M601 264h3v3h-3z"/><path fill="#00b4ec" d="M601 269h3v3h-3zM583 273h3v3h-3zM595 273h3v3h-3zM567 284h3v4h-3z"/><path fill="#80ffb4" d="M571 283h2v5h-2z"/><path fill="#00b4ec" d="M573 280h3v6h-3z"/><path fill="#ff0000" d="M573 286h3v1h-3z"/><path fill="#80ffb4" d="M573 287h3v1h-3zM577 284h2v3h-2z"/><path fill="#00b4ec" d="M579 284h3v4h-3z"/><path fill="#80ffb4" d="M583 283h3v3h-3z"/><path fill="#ffb462" d="M583 286h3v2h-3zM589 284h3v3h-3z"/><path fill="#00b4ec" d="M589 287h3v1h-3zM595 286h3v2h-3z"/><path fill="#80ffb4" d="M601 284h3v3h-3z"/><path fill="#ffb462" d="M601 287h3v1h-3z"/><path fill="#80ffb4" d="M608 284h3v4h-3z"/><path fill="#00b4ec" d="M614 279h3v3h-3zM614 286h3v2h-3zM515 286h3v4h-3zM511 302h3v3h-3zM536 317h3v3h-3zM548 324h3v3h-3zM522 286h3v2h-3zM528 286h3v1h-3z"/><path fill="#ffb462" d="M528 287h3v2h-3z"/><path fill="#80ffb4" d="M528 289h3v1h-3z"/><path fill="#00b4ec" d="M528 290h3v11h-3zM534 286h2v1h-2z"/><path fill="#80ffb4" d="M534 287h2v1h-2z"/><path fill="#00b4ec" d="M534 288h2v12h-2zM536 286h3v1h-3z"/><path fill="#ff0000" d="M536 287h3v1h-3z"/><path fill="#80ffb4" d="M536 288h3v1h-3z"/><path fill="#ffb462" d="M536 289h3v1h-3z"/><path fill="#80ffb4" d="M536 290h3v6h-3z"/><path fill="#ffb462" d="M536 296h3v2h-3z"/><path fill="#80ffb4" d="M536 298h3v2h-3z"/><path fill="#00b4ec" d="M536 300h3v1h-3zM540 286h2v3h-2z"/><path fill="#80ffb4" d="M542 286h3v1h-3z"/><path fill="#00b4ec" d="M542 287h3v1h-3z"/><path fill="#ff0000" d="M542 288h3v1h-3z"/><path fill="#80ffb4" d="M542 289h3v1h-3z"/><path fill="#00b4ec" d="M542 290h3v4h-3z"/><path fill="#ff0000" d="M542 294h3v2h-3z"/><path fill="#80ffb4" d="M542 296h3v1h-3z"/><path fill="#00b4ec" d="M542 297h3v1h-3zM542 299h3v3h-3zM548 286h3v1h-3z"/><path fill="#ffb462" d="M552 286h3v1h-3z"/><path fill="#80ffb4" d="M552 287h3v2h-3z"/><path fill="#00b4ec" d="M552 289h3v1h-3zM546 294h2v3h-2z"/><path fill="#80ffb4" d="M548 293h3v3h-3z"/><path fill="#00b4ec" d="M548 296h3v2h-3zM558 290h3v3h-3zM560 292h3v3h-3zM558 295h5v3h-5z"/><path fill="#80ffb4" d="M560 296h3v1h-3z"/><path fill="#00b4ec" d="M560 299h3v3h-3zM560 304h3v3h-3z"/><path fill="#80ffb4" d="M560 307h3v3h-3z"/><path fill="#00b4ec" d="M567 286h3v3h-3z"/><path fill="#80ffb4" d="M567 293h3v4h-3z"/><path fill="#00b4ec" d="M567 297h3v5h-3z"/><path fill="#80ffb4" d="M571 286h2v1h-2z"/><path fill="#00b4ec" d="M571 287h2v9h-2z"/><path fill="#ff0000" d="M573 286h3v1h-3z"/><path fill="#80ffb4" d="M573 287h3v2h-3z"/><path fill="#00b4ec" d="M573 289h3v1h-3zM573 291h3v5h-3z"/><path fill="#80ffb4" d="M573 296h3v1h-3z"/><path fill="#00b4ec" d="M577 286h5v2h-5z"/><path fill="#80ffb4" d="M577 286h2v1h-2z"/><path fill="#00b4ec" d="M577 293h3v9h-3zM579 295h3v5h-3z"/><path fill="#ffb462" d="M579 300h3v2h-3z"/><path fill="#80ffb4" d="M583 299h3v3h-3z"/><path fill="#00b4ec" d="M579 304h3v3h-3z"/><path fill="#ffb462" d="M583 286h3v3h-3z"/><path fill="#00b4ec" d="M585 287h3v3h-3z"/><path fill="#ffb462" d="M589 286h3v1h-3z"/><path fill="#00b4ec" d="M589 287h3v1h-3zM589 290h3v6h-3zM595 286h3v3h-3zM595 295h3v3h-3zM595 304h3v3h-3z"/><path fill="#80ffb4" d="M601 286h3v1h-3z"/><path fill="#ffb462" d="M601 287h3v1h-3z"/><path fill="#00b4ec" d="M601 288h3v1h-3z"/><path fill="#ff0000" d="M601 289h3v1h-3z"/><path fill="#00b4ec" d="M601 290h3v1h-3z"/><path fill="#80ffb4" d="M601 291h3v5h-3z"/><path fill="#ffb462" d="M601 296h3v1h-3z"/><path fill="#00b4ec" d="M601 297h3v1h-3z"/><path fill="#80ffb4" d="M601 298h3v1h-3z"/><path fill="#00b4ec" d="M601 299h3v3h-3zM601 306h3v4h-3z"/><path fill="#80ffb4" d="M608 286h3v4h-3z"/><path fill="#00b4ec" d="M608 292h3v3h-3z"/><path fill="#ffb462" d="M608 295h3v2h-3z"/><path fill="#ff0000" d="M608 297h3v1h-3z"/><path fill="#ffb462" d="M608 298h3v1h-3z"/><path fill="#00b4ec" d="M608 308h3v3h-3zM614 286h3v4h-3zM614 294h3v3h-3z"/><path fill="#80ffb4" d="M614 297h3v1h-3z"/><path fill="#00b4ec" d="M620 280h3v3h-3z"/><path fill="#80ffb4" d="M620 291h3v3h-3z"/><path fill="#ffb462" d="M620 294h3v1h-3z"/><path fill="#80ffb4" d="M620 295h3v1h-3z"/><path fill="#ff0000" d="M620 296h3v1h-3z"/><path fill="#ffb462" d="M620 297h3v1h-3z"/><path fill="#00b4ec" d="M626 279h3v9h-3z"/><path fill="#80ffb4" d="M626 288h3v1h-3z"/><path fill="#00b4ec" d="M626 289h3v1h-3z"/><path fill="#80ffb4" d="M626 290h3v3h-3z"/><path fill="#00b4ec" d="M626 293h3v1h-3z"/><path fill="#ffb462" d="M626 294h3v1h-3z"/><path fill="#80ffb4" d="M626 295h3v1h-3z"/><path fill="#00b4ec" d="M626 296h3v1h-3z"/><path fill="#80ffb4" d="M626 297h3v1h-3z"/><path fill="#00b4ec" d="M632 275h3v3h-3zM632 281h3v4h-3z"/><path fill="#80ffb4" d="M632 285h3v2h-3z"/><path fill="#00b4ec" d="M632 287h3v1h-3zM632 293h3v5h-3zM638 281h3v4h-3z"/><path fill="#ffb462" d="M638 285h3v3h-3z"/><path fill="#00b4ec" d="M638 288h3v1h-3z"/><path fill="#80ffb4" d="M638 289h3v1h-3z"/><path fill="#00b4ec" d="M638 293h3v4h-3z"/><path fill="#ffb462" d="M644 281h3v3h-3z"/><path fill="#80ffb4" d="M644 284h3v1h-3z"/><path fill="#ff0000" d="M644 285h3v2h-3z"/><path fill="#80ffb4" d="M644 287h3v1h-3z"/><path fill="#ff0000" d="M644 288h3v2h-3z"/><path fill="#00b4ec" d="M644 290h3v3h-3zM644 295h3v3h-3zM651 281h5v3h-5zM651 284h3v1h-3z"/><path fill="#80ffb4" d="M651 285h3v2h-3z"/><path fill="#ffb462" d="M651 287h3v1h-3z"/><path fill="#00b4ec" d="M651 288h3v2h-3z"/><path fill="#80ffb4" d="M651 290h3v6h-3z"/><path fill="#ffb462" d="M651 296h3v2h-3z"/><path fill="#00b4ec" d="M657 284h3v3h-3z"/><path fill="#ff0000" d="M657 287h3v3h-3z"/><path fill="#00b4ec" d="M657 290h3v3h-3z"/><path fill="#80ffb4" d="M657 293h3v4h-3z"/><path fill="#00b4ec" d="M657 297h3v1h-3z"/><path fill="#80ffb4" d="M663 290h3v3h-3z"/><path fill="#00b4ec" d="M663 293h3v1h-3z"/><path fill="#ffb462" d="M663 294h3v1h-3z"/><path fill="#80ffb4" d="M663 295h3v1h-3z"/><path fill="#ffb462" d="M663 296h3v1h-3z"/><path fill="#00b4ec" d="M663 297h3v1h-3zM614 296h3v1h-3z"/><path fill="#80ffb4" d="M614 297h3v1h-3z"/><path fill="#00b4ec" d="M620 298h3v2h-3zM626 298h3v1h-3z"/><path fill="#80ffb4" d="M632 298h3v1h-3z"/><path fill="#00b4ec" d="M632 298h3v1h-3zM644 296h3v4h-3z"/><path fill="#ffb462" d="M651 296h3v2h-3z"/><path fill="#80ffb4" d="M651 298h3v1h-3zM657 296h3v1h-3z"/><path fill="#00b4ec" d="M657 297h3v1h-3z"/><path fill="#80ffb4" d="M657 298h3v1h-3z"/><path fill="#ffb462" d="M663 296h3v1h-3z"/><path fill="#00b4ec" d="M663 297h3v1h-3z"/><path fill="#ff0000" d="M663 298h3v1h-3z"/><path fill="#80ffb4" d="M663 299h3v1h-3zM620 304h3v3h-3z"/><path fill="#00b4ec" d="M626 308h3v3h-3zM632 306h3v4h-3z"/><path fill="#80ffb4" d="M632 310h3v1h-3zM632 312h3v3h-3z"/><path fill="#ffb462" d="M632 315h3v1h-3z"/><path fill="#80ffb4" d="M632 316h3v1h-3z"/><path fill="#00b4ec" d="M632 317h3v1h-3zM644 304h3v3h-3zM663 303h3v3h-3zM663 315h3v3h-3zM640 322h3v3h-3zM560 311h3v6h-3zM601 312h3v3h-3zM579 315h3v4h-3zM583 314h3v3h-3zM583 319h3v3h-3zM589 324h3v3h-3zM159 324h3v3h-3z"/><path fill="#80ffb4" d="M573 238h3v3h-3z"/><path fill="#00b4ec" d="M579 236h3v3h-3z"/><path fill="#ffb462" d="M579 239h3v1h-3z"/><path fill="#80ffb4" d="M583 238h2v5h-2z"/><path fill="#ffb462" d="M583 242h2v1h-2z"/><path fill="#00b4ec" d="M585 237h3v3h-3z"/><path fill="#ff0000" d="M585 240h3v1h-3z"/><path fill="#ffb462" d="M589 237h2v4h-2z"/><path fill="#80ffb4" d="M591 238h3v3h-3z"/><path d="M74.0 335.5h4.5M668.5 335.5h4.5M74.0 315.5h4.5M668.5 315.5h4.5M74.0 295.5h4.5M668.5 295.5h4.5M74.0 275.5h4.5M668.5 275.5h4.5M74.0 256.5h4.5M668.5 256.5h4.5M74.0 236.5h4.5M668.5 236.5h4.5M74.0 216.5h4.5M668.5 216.5h4.5M74.0 196.5h4.5M668.5 196.5h4.5M74.0 176.5h4.5M668.5 176.5h4.5M74.0 156.5h4.5M668.5 156.5h4.5M74.0 136.5h4.5M668.5 136.5h4.5M74.0 117.5h4.5M668.5 117.5h4.5M74.0 97.5h4.5M668.5 97.5h4.5M74.0 77.5h4.5M668.5 77.5h4.5M74.0 57.5h4.5M668.5 57.5h4.5M78.5 335.5v4.5M78.5 57.5v-4.5M103.5 335.5v2.5M103.5 57.5v-2.5M127.5 335.5v4.5M127.5 57.5v-4.5M152.5 335.5v2.5M152.5 57.5v-2.5M176.5 335.5v4.5M176.5 57.5v-4.5M201.5 335.5v2.5M201.5 57.5v-2.5M226.5 335.5v4.5M226.5 57.5v-4.5M250.5 335.5v2.5M250.5 57.5v-2.5M275.5 335.5v4.5M275.5 57.5v-4.5M299.5 335.5v2.5M299.5 57.5v-2.5M324.5 335.5v4.5M324.5 57.5v-4.5M348.5 335.5v2.5M348.5 57.5v-2.5M373.5 335.5v4.5M373.5 57.5v-4.5M398.5 335.5v2.5M398.5 57.5v-2.5M422.5 335.5v4.5M422.5 57.5v-4.5M447.5 335.5v2.5M447.5 57.5v-2.5M471.5 335.5v4.5M471.5 57.5v-4.5M496.5 335.5v2.5M496.5 57.5v-2.5M521.5 335.5v4.5M521.5 57.5v-4.5M545.5 335.5v2.5M545.5 57.5v-2.5M570.5 335.5v4.5M570.5 57.5v-4.5M594.5 335.5v2.5M594.5 57.5v-2.5M619.5 335.5v4.5M619.5 57.5v-4.5M643.5 335.5v2.5M643.5 57.5v-2.5M668.5 335.5v4.5M668.5 57.5v-4.5" stroke="#000" stroke-width="1" fill="none"/><rect x="78.5" y="57.5" width="590.0" height="278.0" stroke="#000" stroke-width="1" fill="none"/><text x="61" y="339.5" font-size="16" text-anchor="end">1</text><text x="61" y="319.6" font-size="16" text-anchor="end">2</text><text x="61" y="299.8" font-size="16" text-anchor="end">3</text><text x="61" y="279.9" font-size="16" text-anchor="end">4</text><text x="61" y="260.1" font-size="16" text-anchor="end">5</text><text x="61" y="240.2" font-size="16" text-anchor="end">6</text><text x="61" y="220.4" font-size="16" text-anchor="end">7</text><text x="61" y="200.5" font-size="16" text-anchor="end">8</text><text x="61" y="180.6" font-size="16" text-anchor="end">9</text><text x="61" y="160.8" font-size="16" text-anchor="end">10</text><text x="61" y="140.9" font-size="16" text-anchor="end">11</text><text x="61" y="121.1" font-size="16" text-anchor="end">12</text><text x="61" y="101.2" font-size="16" text-anchor="end">13</text><text x="61" y="81.4" font-size="16" text-anchor="end">14</text><text x="61" y="61.5" font-size="16" text-anchor="end">15</text><text transform="translate(76.5 363) scale(0.92 1)" font-size="16" text-anchor="middle">00</text><text transform="translate(125.7 363) scale(0.92 1)" font-size="16" text-anchor="middle">02</text><text transform="translate(174.8 363) scale(0.92 1)" font-size="16" text-anchor="middle">04</text><text transform="translate(224.0 363) scale(0.92 1)" font-size="16" text-anchor="middle">06</text><text transform="translate(273.2 363) scale(0.92 1)" font-size="16" text-anchor="middle">08</text><text transform="translate(322.3 363) scale(0.92 1)" font-size="16" text-anchor="middle">10</text><text transform="translate(371.5 363) scale(0.92 1)" font-size="16" text-anchor="middle">12</text><text transform="translate(420.7 363) scale(0.92 1)" font-size="16" text-anchor="middle">14</text><text transform="translate(469.8 363) scale(0.92 1)" font-size="16" text-anchor="middle">16</text><text transform="translate(519.0 363) scale(0.92 1)" font-size="16" text-anchor="middle">18</text><text transform="translate(568.2 363) scale(0.92 1)" font-size="16" text-anchor="middle">20</text><text transform="translate(617.3 363) scale(0.92 1)" font-size="16" text-anchor="middle">22</text><text transform="translate(666.5 363) scale(0.92 1)" font-size="16" text-anchor="middle">00</text><text x="371" y="33" font-size="16" text-anchor="middle">2025-04-09</text><text x="372" y="391" font-size="16" text-anchor="middle">UT Time / hrs</text><text transform="translate(19,197) rotate(-90)" font-size="16.25" text-anchor="middle">Frequency / MHz</text><text transform="translate(764,196.3) rotate(-90)" font-size="16.25" text-anchor="middle">Signal to Noise Ratio SNR / dB</text><rect x="687.5" y="279.90" width="29.0" height="55.90" fill="#8000ff"/><rect x="687.5" y="224.30" width="29.0" height="55.90" fill="#00b4ec"/><rect x="687.5" y="168.70" width="29.0" height="55.90" fill="#80ffb4"/><rect x="687.5" y="113.10" width="29.0" height="55.90" fill="#ffb462"/><rect x="687.5" y="57.50" width="29.0" height="55.90" fill="#ff0000"/><rect x="687.5" y="57.5" width="29.0" height="278.0" stroke="#000" stroke-width="1" fill="none"/><text x="730" y="339.5" font-size="16">6</text><text x="730" y="283.9" font-size="16">9</text><text x="730" y="228.3" font-size="16">12</text><text x="730" y="172.7" font-size="16">15</text><text x="730" y="117.1" font-size="16">18</text><text x="730" y="61.5" font-size="16">21</text></svg></body></html>
